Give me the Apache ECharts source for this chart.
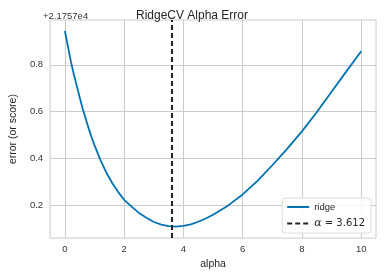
<!DOCTYPE html>
<html>
<head>
<meta charset="utf-8">
<script src="https://cdn.jsdelivr.net/npm/echarts@6/dist/echarts.min.js"></script>
<style>html,body{margin:0;padding:0;background:#fff}#c{width:384px;height:275px}</style>
</head>
<body>
<div id="c"></div>
<script>
const alphas = [0, 0.1, 0.2, 0.3, 0.4, 0.5, 0.6, 0.7, 0.8, 0.9, 1.0, 1.2, 1.4, 1.6, 1.8, 2.0, 2.25, 2.5, 2.75, 3.0, 3.25, 3.5, 3.75, 4.0, 4.25, 4.5, 4.75, 5.0, 5.5, 6.0, 6.5, 7.0, 7.5, 8.0, 8.5, 9.0, 9.5, 10.0];
const errors = [0.945, 0.88, 0.815, 0.76, 0.71, 0.66, 0.612, 0.57, 0.528, 0.49, 0.455, 0.392, 0.338, 0.293, 0.255, 0.222, 0.193, 0.166, 0.145, 0.127, 0.116, 0.109, 0.107, 0.11, 0.117, 0.128, 0.142, 0.158, 0.197, 0.245, 0.303, 0.37, 0.44, 0.515, 0.597, 0.685, 0.772, 0.858];
const alphaSelected = 3.612;
const xTicks = [0, 2, 4, 6, 8, 10];
const yTicks = [0.2, 0.4, 0.6, 0.8];
const offsetText = '+2.1757e4';

const font = 'Liberation Sans, Arial, sans-serif';
const chart = echarts.init(document.getElementById('c'), null, {renderer: 'canvas'});
chart.setOption({
  animation: false,
  backgroundColor: '#fff',
  title: [
    {text: 'RidgeCV Alpha Error', left: 'center', top: 5,
     textStyle: {fontFamily: font, fontSize: 12, fontWeight: 'normal', color: '#262626'}},
    {text: offsetText, left: 38, top: 6,
     textStyle: {fontFamily: font, fontSize: 9.5, fontWeight: 'normal', color: '#333'}}
  ],
  grid: {left: 42, right: 8, top: 20, bottom: 36, show: true, borderColor: '#cccccc', borderWidth: 1},
  xAxis: {
    type: 'value', min: -0.5, max: 10.5,
    name: 'alpha', nameLocation: 'middle', nameGap: 19,
    nameTextStyle: {fontFamily: font, fontSize: 10.5, color: '#262626'},
    axisLine: {show: false},
    axisTick: {show: false, customValues: xTicks},
    axisLabel: {customValues: xTicks, fontFamily: font, fontSize: 9.5, color: '#333', margin: 6},
    splitLine: {show: true, lineStyle: {color: '#cccccc', width: 1}}
  },
  yAxis: {
    type: 'value', min: 0.058, max: 0.992,
    name: 'error (or score)', nameLocation: 'middle', nameGap: 26,
    nameTextStyle: {fontFamily: font, fontSize: 10.5, color: '#262626'},
    axisLine: {show: false},
    axisTick: {show: false, customValues: yTicks},
    axisLabel: {customValues: yTicks, fontFamily: font, fontSize: 9.5, color: '#333', margin: 7,
      formatter: v => v.toFixed(1)},
    splitLine: {show: true, lineStyle: {color: '#cccccc', width: 1}}
  },
  legend: {
    orient: 'vertical', right: 13, bottom: 42,
    itemWidth: 22, itemHeight: 10, itemGap: 6,
    padding: [4, 6, 4, 4],
    backgroundColor: 'rgba(255,255,255,0.85)', borderColor: '#dddddd', borderWidth: 1, borderRadius: 3,
    itemStyle: {color: 'rgba(0,0,0,0)', borderWidth: 0, opacity: 0},
    textStyle: {fontFamily: font, fontSize: 9.5, color: '#262626',
      rich: {a: {fontStyle: 'italic', fontFamily: 'DejaVu Serif, serif', fontSize: 11, color: '#262626'},
             t: {fontFamily: 'DejaVu Sans, sans-serif', fontSize: 10, color: '#262626'}}},
    formatter: name => name === 'ridge' ? name : '{a|α}{t| = ' + alphaSelected.toFixed(3) + '}',
    data: ['ridge', 'alpha']
  },
  series: [
    {name: 'ridge', type: 'line', data: alphas.map((a, i) => [a, errors[i]]),
     symbol: 'none', smooth: false, lineStyle: {color: '#0072B2', width: 1.8}, itemStyle: {color: '#0072B2'}},
    {name: 'alpha', type: 'line', data: [], symbol: 'none',
     lineStyle: {color: '#222', width: 2, type: [5, 3]}, itemStyle: {color: '#222'},
     markLine: {silent: true, symbol: 'none', label: {show: false},
       lineStyle: {color: '#222', width: 2, type: [5, 3]},
       data: [{xAxis: alphaSelected}]}}
  ]
});
</script>
</body>
</html>
